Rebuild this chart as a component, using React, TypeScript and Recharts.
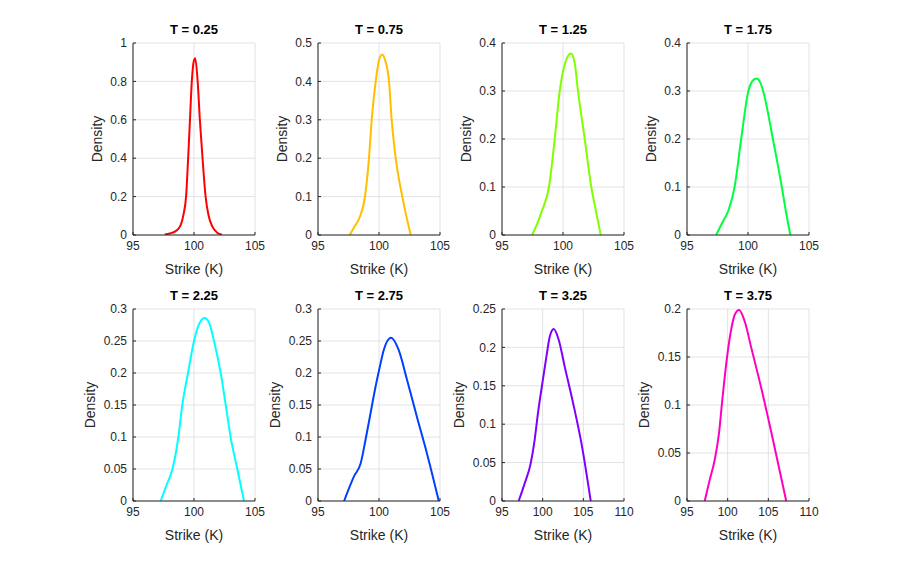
import { LineChart, Line, XAxis, YAxis, CartesianGrid } from 'recharts';

// maturities and hsv(8) colours, one panel each
const maturities = ['0.25', '0.75', '1.25', '1.75', '2.25', '2.75', '3.25', '3.75'];
const colors = ['#ff0000', '#ffbf00', '#80ff00', '#00ff40', '#00ffff', '#0040ff', '#8000ff', '#ff00bf'];

// strike / density
const strike025 = [97.6, 98.0, 98.5, 98.9, 99.15, 99.35, 99.52, 99.67, 99.82, 100.0, 100.1, 100.3, 100.48, 100.7, 100.95, 101.2, 101.5, 101.9, 102.3];
const density025 = [0.003, 0.008, 0.02, 0.05, 0.11, 0.2, 0.4, 0.6, 0.8, 0.91, 0.92, 0.8, 0.6, 0.4, 0.2, 0.1, 0.045, 0.012, 0.002];

const strike075 = [97.6, 98.0, 98.4, 98.85, 99.18, 99.4, 99.73, 100.0, 100.27, 100.5, 100.82, 101.04, 101.37, 101.91, 102.2, 102.6];
const density075 = [0, 0.022, 0.045, 0.1, 0.2, 0.3, 0.4, 0.455, 0.47, 0.455, 0.4, 0.3, 0.2, 0.1, 0.055, 0];

const strike125 = [97.46, 97.9, 98.22, 98.85, 99.32, 99.73, 100.2, 100.65, 100.95, 101.23, 101.78, 102.32, 102.7, 103.09];
const density125 = [0, 0.024, 0.047, 0.1, 0.2, 0.3, 0.36, 0.378, 0.36, 0.3, 0.2, 0.1, 0.05, 0];

const strike175 = [97.39, 97.9, 98.41, 98.9, 99.44, 100.03, 100.4, 100.7, 101.0, 101.24, 102.04, 102.77, 103.1, 103.47];
const density175 = [0, 0.026, 0.052, 0.1, 0.2, 0.3, 0.322, 0.326, 0.318, 0.3, 0.2, 0.1, 0.05, 0];

const strike225 = [97.27, 97.75, 98.22, 98.72, 99.04, 99.51, 100.0, 100.45, 100.87, 101.25, 101.64, 102.19, 102.6, 103.0, 103.55, 104.1];
const density225 = [0, 0.025, 0.049, 0.1, 0.15, 0.2, 0.25, 0.278, 0.286, 0.278, 0.25, 0.2, 0.15, 0.1, 0.05, 0];

const strike275 = [97.14, 97.95, 98.5, 98.9, 99.31, 99.72, 100.07, 100.39, 100.99, 101.61, 102.29, 103.1, 103.92, 104.9];
const density275 = [0, 0.0385, 0.059, 0.096, 0.1375, 0.179, 0.21, 0.236, 0.255, 0.236, 0.19, 0.132, 0.075, 0];

const strike325 = [97.05, 97.79, 98.53, 99.02, 99.43, 99.97, 100.46, 100.87, 101.36, 101.97, 102.71, 103.73, 104.77, 105.91];
const density325 = [0, 0.023, 0.049, 0.08, 0.115, 0.154, 0.188, 0.214, 0.224, 0.21, 0.175, 0.128, 0.075, 0];

const strike375 = [97.18, 97.79, 98.41, 98.94, 99.35, 99.85, 100.46, 100.87, 101.4, 102.1, 102.92, 104.15, 105.38, 107.2];
const density375 = [0, 0.022, 0.043, 0.071, 0.106, 0.145, 0.18, 0.194, 0.199, 0.187, 0.159, 0.117, 0.071, 0];

const strikes = [strike025, strike075, strike125, strike175, strike225, strike275, strike325, strike375];
const densities = [density025, density075, density125, density175, density225, density275, density325, density375];

// tick labels
const xTicksShort = [95, 100, 105];
const xTicksWide = [95, 100, 105, 110];
const yTicks1 = [0, 0.2, 0.4, 0.6, 0.8, 1];
const yTicks05 = [0, 0.1, 0.2, 0.3, 0.4, 0.5];
const yTicks04 = [0, 0.1, 0.2, 0.3, 0.4];
const yTicks03 = [0, 0.05, 0.1, 0.15, 0.2, 0.25, 0.3];
const yTicks025 = [0, 0.05, 0.1, 0.15, 0.2, 0.25];
const yTicks02 = [0, 0.05, 0.1, 0.15, 0.2];

const xTicksPerPanel = [xTicksShort, xTicksShort, xTicksShort, xTicksShort, xTicksShort, xTicksShort, xTicksWide, xTicksWide];
const yTicksPerPanel = [yTicks1, yTicks05, yTicks04, yTicks04, yTicks03, yTicks03, yTicks025, yTicks02];

const FONT = '"Liberation Sans", Arial, Helvetica, sans-serif';
const AX = '#262626';
const PLOT_W = 122;
const PLOT_H = 192;
const lefts = [133, 318, 502, 687];
const tops = [43, 309];
const PAD_L = 60;
const PAD_T = 30;
const PAD_B = 45;
const PAD_R = 10;

const Panel = ({ idx }: { idx: number }) => {
  const data = strikes[idx].map((k, i) => ({ k, d: densities[idx][i] }));
  const xt = xTicksPerPanel[idx];
  const yt = yTicksPerPanel[idx];
  const left = lefts[idx % 4];
  const top = tops[Math.floor(idx / 4)];
  const longLabels = yt.some((v) => String(v).length > 3);
  const labelDist = longLabels ? 43 : 36;
  const tickStyle = { fontSize: 12, fill: AX, fontFamily: FONT };
  const labelStyle = { fontSize: 14, fill: AX, fontFamily: FONT };

  return (
    <>
      <div
        style={{
          position: 'absolute',
          left,
          top: top - 21,
          width: PLOT_W,
          textAlign: 'center',
          fontFamily: FONT,
          fontWeight: 'bold',
          fontSize: 13,
          lineHeight: '16px',
          color: '#000',
        }}
      >
        T = {maturities[idx]}
      </div>
      <div style={{ position: 'absolute', left: left - PAD_L, top: top - PAD_T }}>
        <LineChart
          width={PLOT_W + PAD_L + PAD_R}
          height={PLOT_H + PAD_T + PAD_B}
          data={data}
          margin={{ top: PAD_T, right: PAD_R, bottom: PAD_B - 40, left: PAD_L - 50 }}
        >
          <CartesianGrid stroke="#e2e2e2" strokeWidth={1} />
          <XAxis
            dataKey="k"
            type="number"
            domain={[xt[0], xt[xt.length - 1]]}
            ticks={xt}
            interval={0}
            allowDataOverflow
            height={40}
            stroke={AX}
            fontSize={12}
            fontFamily={FONT}
            tickSize={-3}
            tickMargin={9}
            tick={tickStyle}
            label={{ value: 'Strike (K)', position: 'insideBottom', offset: 1, style: labelStyle }}
          />
          <XAxis
            xAxisId="t"
            orientation="top"
            dataKey="k"
            type="number"
            domain={[xt[0], xt[xt.length - 1]]}
            ticks={xt}
            interval={0}
            height={0}
            stroke={AX}
            tickSize={-3}
            tick={false}
          />
          <YAxis
            type="number"
            domain={[yt[0], yt[yt.length - 1]]}
            ticks={yt}
            interval={0}
            allowDataOverflow
            width={50}
            stroke={AX}
            fontSize={12}
            fontFamily={FONT}
            tickSize={-3}
            tickMargin={9}
            tick={tickStyle}
            label={{
              value: 'Density',
              angle: -90,
              position: 'insideLeft',
              offset: 50 - labelDist,
              style: { ...labelStyle, textAnchor: 'middle' },
            }}
          />
          <YAxis
            yAxisId="r"
            orientation="right"
            type="number"
            domain={[yt[0], yt[yt.length - 1]]}
            ticks={yt}
            interval={0}
            width={0}
            stroke={AX}
            tickSize={-3}
            tick={false}
          />
          <Line
            type="monotone"
            dataKey="d"
            stroke={colors[idx]}
            strokeWidth={2}
            dot={false}
            isAnimationActive={false}
          />
        </LineChart>
      </div>
    </>
  );
};

export default function App() {
  return (
    <div
      style={{
        position: 'absolute',
        left: 0,
        top: 0,
        width: 900,
        height: 563,
        background: '#fff',
        overflow: 'hidden',
      }}
    >
      {maturities.map((_, i) => (
        <Panel key={i} idx={i} />
      ))}
    </div>
  );
}
